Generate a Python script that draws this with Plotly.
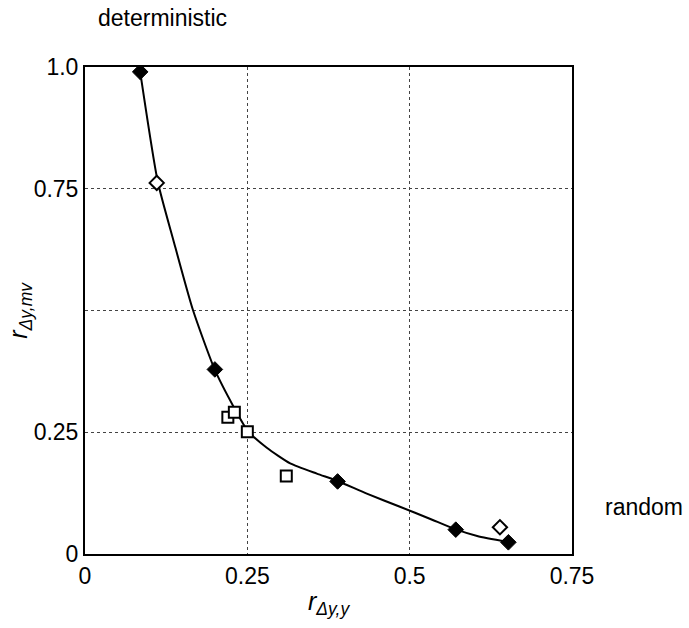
import plotly.graph_objects as go

# Fitted curve
curve_x = [0.085, 0.112, 0.136, 0.166, 0.200, 0.229,
           0.250, 0.280, 0.316, 0.357, 0.389, 0.434, 0.485, 0.530, 0.570, 0.604, 0.650]
curve_y = [0.99, 0.765, 0.645, 0.502, 0.378, 0.302,
           0.254, 0.218, 0.186, 0.165, 0.150, 0.124, 0.097, 0.073, 0.051, 0.037, 0.025]

# Filled diamonds
filled_x = [0.085, 0.200, 0.389, 0.571, 0.652]
filled_y = [0.99, 0.379, 0.149, 0.050, 0.024]

# Open diamonds
open_d_x = [0.1105, 0.639]
open_d_y = [0.762, 0.055]

# Open squares
sq_x = [0.220, 0.230, 0.250, 0.310]
sq_y = [0.281, 0.291, 0.251, 0.160]

x_ticks = [0, 0.25, 0.5, 0.75]
x_ticktext = ["0", "0.25", "0.5", "0.75"]
y_ticks = [0, 0.25, 0.5, 0.75, 1.0]
y_ticktext = ["0", "0.25", "", "0.75", "1.0"]

FONT = "Arial, Liberation Sans, sans-serif"
FS = 23

fig = go.Figure()
fig.add_trace(go.Scatter(x=curve_x, y=curve_y, mode="lines",
                         line=dict(color="black", width=2, shape="spline", smoothing=0.6),
                         hoverinfo="skip"))
fig.add_trace(go.Scatter(x=filled_x, y=filled_y, mode="markers",
                         marker=dict(symbol="diamond", size=12, color="black",
                                     line=dict(color="black", width=1))))
fig.add_trace(go.Scatter(x=open_d_x, y=open_d_y, mode="markers",
                         marker=dict(symbol="diamond", size=11, color="white",
                                     line=dict(color="black", width=2))))
fig.add_trace(go.Scatter(x=sq_x, y=sq_y, mode="markers",
                         marker=dict(symbol="square", size=11, color="white",
                                     line=dict(color="black", width=2))))

axis_common = dict(showline=True, linecolor="black", linewidth=2, mirror=True,
                   showgrid=True, gridcolor="#444444", gridwidth=1, griddash="dot",
                   zeroline=False, ticks="", tickfont=dict(family=FONT, size=FS, color="black"))

fig.update_xaxes(range=[0, 0.75], tickvals=x_ticks, ticktext=x_ticktext, **axis_common)
fig.update_yaxes(range=[0, 1.0], tickvals=y_ticks, ticktext=y_ticktext, **axis_common)

fig.update_layout(
    width=689, height=628,
    margin=dict(l=85, r=117, t=67, b=74),
    plot_bgcolor="white", paper_bgcolor="white",
    showlegend=False,
    font=dict(family=FONT, size=FS, color="black"),
    annotations=[
        dict(text="deterministic", xref="paper", yref="paper", x=0.160, y=1.100,
             xanchor="center", yanchor="middle", showarrow=False,
             font=dict(family=FONT, size=FS, color="black")),
        dict(text="random", xref="paper", yref="paper", x=1.1486, y=0.096,
             xanchor="center", yanchor="middle", showarrow=False,
             font=dict(family=FONT, size=FS, color="black")),
        dict(text="<i>r</i><sub><i>Δy,y</i></sub>", xref="paper", yref="paper",
             x=0.5, y=-0.10, xanchor="center", yanchor="middle", showarrow=False,
             font=dict(family=FONT, size=25, color="black")),
        dict(text="<i>r</i><sub><i>Δy,mv</i></sub>", xref="paper", yref="paper",
             x=-0.135, y=0.5, xanchor="center", yanchor="middle", showarrow=False,
             textangle=-90, font=dict(family=FONT, size=25, color="black")),
    ],
)

fig.write_html("out.html")
